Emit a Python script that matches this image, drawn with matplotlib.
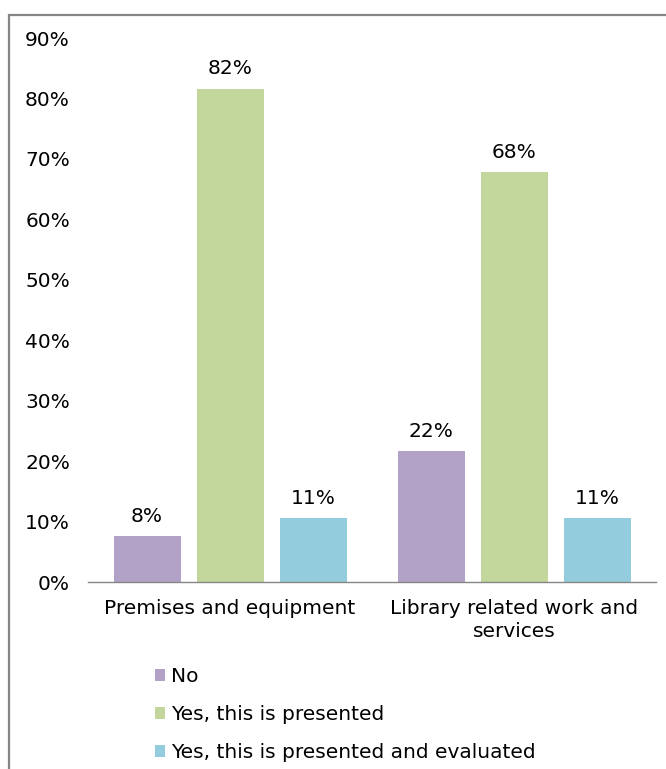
import matplotlib
matplotlib.use("Agg")
import matplotlib.pyplot as plt
from matplotlib.patches import Patch, Rectangle
import numpy as np

# ---------------------------------------------------------------------------
# Data
# ---------------------------------------------------------------------------
categories = ["Premises and equipment", "Library related work and\nservices"]
series_names = ["No", "Yes, this is presented",
                "Yes, this is presented and evaluated"]
no_vals = [7.6, 21.6]
presented_vals = [81.6, 67.8]
evaluated_vals = [10.6, 10.6]
colors = ["#B2A2C7", "#C3D69B", "#93CDDD"]

plt.rcParams["font.family"] = ["DejaVu Sans"]
FS = 14.5

fig = plt.figure(figsize=(6.66, 7.69), dpi=100)
W, H = 666, 769
ax = fig.add_axes([88 / W, 1 - 582 / H, (656 - 88) / W, (582 - 38) / H])

x = np.arange(len(categories))
width = 67 / 284
step = 83 / 284
for i, (vals, col) in enumerate(zip([no_vals, presented_vals, evaluated_vals],
                                    colors)):
    pos = x + (i - 1) * step
    ax.bar(pos, vals, width=width, color=col, zorder=2)
    for px, v in zip(pos, vals):
        ax.text(px, v + 1.7, f"{round(v):.0f}%", ha="center", va="bottom",
                fontsize=FS, color="#000000")

ax.set_xlim(-0.5, 1.5)
ax.set_ylim(0, 90)
ax.set_yticks(np.arange(0, 91, 10))
ax.set_yticklabels([f"{t}%" for t in range(0, 91, 10)], fontsize=FS)
ax.set_xticks(x)
ax.set_xticklabels(categories, fontsize=FS, linespacing=1.3)
ax.tick_params(axis="y", length=0, pad=13)
ax.tick_params(axis="x", length=0, pad=12)
for s in ["top", "right", "left"]:
    ax.spines[s].set_visible(False)
ax.spines["bottom"].set_color("#868686")
ax.spines["bottom"].set_linewidth(1.0)

handles = [Patch(facecolor=c, edgecolor="none") for c in colors]
fig.legend(handles, series_names, loc="upper left",
           bbox_to_anchor=(155 / W, 1 - 667 / H), frameon=False,
           fontsize=FS, handlelength=0.5, handleheight=0.5,
           handletextpad=0.3, labelspacing=0.95, borderaxespad=0,
           borderpad=0)

# outer chart border (only left and top edges visible in the crop)
fig.patches.append(Rectangle((9 / W, -0.1), 1.2, 1 - 15 / H + 0.1,
                             transform=fig.transFigure, fill=False,
                             edgecolor="#868686", linewidth=1.6))

fig.savefig("out.png", dpi=100)
